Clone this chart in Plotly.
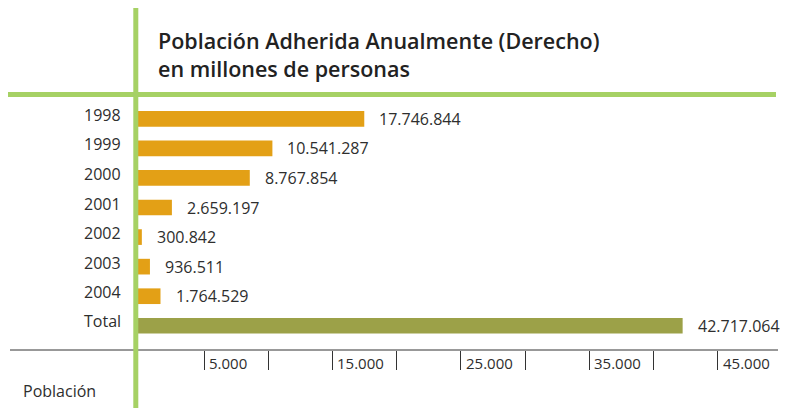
import plotly.graph_objects as go

# ---- data ----
categories = ["1998", "1999", "2000", "2001", "2002", "2003", "2004", "Total"]
values = [17746844, 10541287, 8767854, 2659197, 300842, 936511, 1764529, 42717064]
value_labels = ["17.746.844", "10.541.287", "8.767.854", "2.659.197", "300.842",
                "936.511", "1.764.529", "42.717.064"]
tick_values = [5e6, 10e6, 15e6, 20e6, 25e6, 30e6, 35e6, 40e6, 45e6]
tick_label_values = [5e6, 15e6, 25e6, 35e6, 45e6]
tick_labels = ["5.000", "15.000", "25.000", "35.000", "45.000"]
title_text = "Población Adherida Anualmente (Derecho)<br>en millones de personas"
axis_title = "Población"

# ---- styling ----
W, H = 793, 408
ML, MR, MT, MB = 138, 0, 103, 58
PW, PH = W - ML - MR, H - MT - MB
PX_PER_UNIT = 12.75e-6          # bar scale
XMAX = PW / PX_PER_UNIT
SCALE_PX_PER_UNIT = 12.84e-6    # drawn bottom scale (slightly different in original)
SCALE_ZERO_PX = 1.85
S_XMIN = -SCALE_ZERO_PX / SCALE_PX_PER_UNIT
S_XMAX = S_XMIN + PW / SCALE_PX_PER_UNIT
ORANGE = "#E3A016"
OLIVE = "#9CA148"
GREEN = "#A6D164"
TEXT = "#2e2e2e"
FONT = "Open Sans"

def px2x(px):
    return (px - ML) / PW

def py2y(py):
    return (H - MB - py) / PH

colors = [OLIVE if c == "Total" else ORANGE for c in categories]

fig = go.Figure()
fig.add_trace(go.Bar(
    y=categories, x=values, orientation="h",
    marker=dict(color=colors, line=dict(width=0)),
    hoverinfo="skip",
))
# invisible helper trace so the bottom scale axis is drawn
fig.add_trace(go.Scatter(x=tick_values, y=[categories[-1]] * len(tick_values),
                         xaxis="x2", yaxis="y", mode="markers",
                         marker=dict(opacity=0, size=1), hoverinfo="skip"))

annotations = []
for i, (c, v, t) in enumerate(zip(categories, values, value_labels)):
    annotations.append(dict(x=v, y=i, xref="x", yref="y", text=t, showarrow=False,
                            xanchor="left", yanchor="middle", xshift=13,
                            font=dict(family=FONT, size=16, color=TEXT)))
    annotations.append(dict(x=0, y=i, xref="paper", yref="y", text=c, showarrow=False,
                            xanchor="right", yanchor="middle", xshift=-15,
                            yshift=5 if c == "Total" else 4,
                            font=dict(family=FONT, size=16, color=TEXT)))
for v, t in zip(tick_label_values, tick_labels):
    annotations.append(dict(x=v, y=py2y(363), xref="x2", yref="paper", text=t,
                            showarrow=False, xanchor="left", yanchor="middle", xshift=3,
                            font=dict(family=FONT, size=15, color=TEXT)))
annotations.append(dict(x=px2x(156), y=py2y(54), xref="paper", yref="paper",
                        text=title_text, showarrow=False, xanchor="left",
                        yanchor="middle", align="left",
                        font=dict(family=FONT, size=21.5, color="#222", weight=600)))
annotations.append(dict(x=px2x(21), y=py2y(391), xref="paper", yref="paper",
                        text=axis_title, showarrow=False, xanchor="left",
                        yanchor="middle",
                        font=dict(family=FONT, size=16, color=TEXT)))

shapes = [
    dict(type="line", xref="paper", yref="paper", x0=px2x(10), x1=px2x(778),
         y0=0, y1=0, line=dict(color="#333", width=1)),
    dict(type="line", xref="paper", yref="paper", x0=px2x(8), x1=px2x(776),
         y0=py2y(94.5), y1=py2y(94.5), line=dict(color=GREEN, width=5)),
    dict(type="line", xref="paper", yref="paper", x0=px2x(135.8), x1=px2x(135.8),
         y0=py2y(8), y1=py2y(410), line=dict(color=GREEN, width=5)),
]

fig.update_layout(
    width=W, height=H,
    margin=dict(l=ML, r=MR, t=MT, b=MB, pad=0),
    paper_bgcolor="white", plot_bgcolor="white",
    showlegend=False, bargap=0.47,
    xaxis=dict(range=[0, XMAX], showticklabels=False, ticks="",
               showgrid=False, zeroline=False, showline=False, fixedrange=True),
    xaxis2=dict(range=[S_XMIN, S_XMAX], overlaying="x", anchor="y", side="bottom",
                tickvals=tick_values, showticklabels=False,
                ticks="outside", ticklen=19, tickwidth=1, tickcolor="#333",
                showgrid=False, zeroline=False, showline=False, fixedrange=True),
    yaxis=dict(type="category", categoryorder="array", categoryarray=categories,
               range=[7.819, -0.534], showticklabels=False, ticks="",
               showgrid=False, zeroline=False, showline=False, fixedrange=True),
    annotations=annotations, shapes=shapes,
)

fig.write_html("out.html", config={"displayModeBar": False},
               post_script="document.body.style.margin='0';document.body.style.overflow='hidden';")
